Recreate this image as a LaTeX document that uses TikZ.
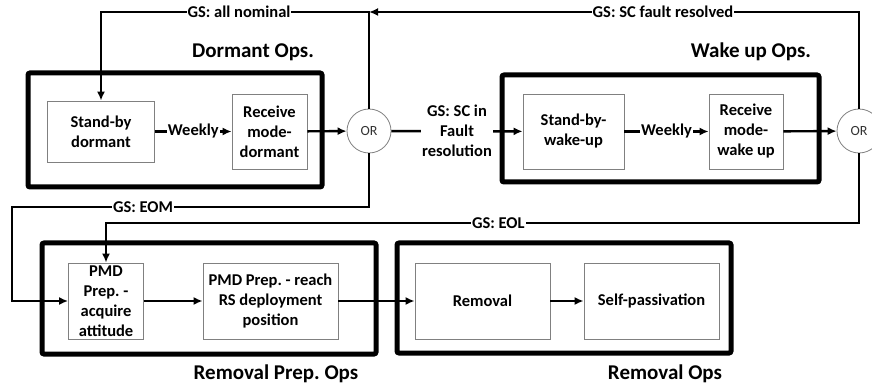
\documentclass[tikz,border=0pt]{standalone}
\usepackage{fontspec}
\setmainfont{Carlito}
\usetikzlibrary{positioning, arrows.meta}

\begin{document}
\frenchspacing
\begin{tikzpicture}[x=1pt,y=-1pt,>={Latex[length=9pt,width=8pt]},
    opsbox/.style={draw, line width=5pt, rounded corners=2pt},
    modebox/.style={draw=gray, line width=0.8pt, fill=white, align=center, inner sep=1pt,
        font=\fontsize{16.5}{20}\selectfont\bfseries},
    orgate/.style={circle, draw=gray, line width=0.8pt, fill=white, minimum size=44pt, inner sep=0pt,
        font=\fontsize{14}{16}\selectfont, text=black!80},
    flow/.style={->, line width=2.4pt},
    cond/.style={fill=white, inner sep=1pt, align=center, font=\fontsize{16.5}{20}\selectfont\bfseries},
    optitle/.style={font=\fontsize{21}{24}\selectfont\bfseries}]
    \useasboundingbox (0,0) rectangle (872,387);

    % phase frames
    \draw[opsbox] (28,73) rectangle (322,187);
    \draw[opsbox] (502,75) rectangle (819,182);
    \draw[opsbox] (42,243) rectangle (376,354);
    \draw[opsbox] (397,243) rectangle (731,353);

    \node[optitle] (dormtitle) at (253,52) {Dormant Ops.};
    \node[optitle] (waketitle) at (751,52) {Wake up Ops.};
    \node[optitle] (preptitle) at (276,374) {Removal Prep. Ops};
    \node[optitle] (remtitle) at (665,374) {Removal Ops};

    % modes
    \node[modebox, minimum width=107pt, minimum height=61pt] (sbd) at (101,131.5) {Stand-by\\dormant};
    \node[modebox, minimum width=75pt, minimum height=75pt] (rmd) at (269.5,131.5) {Receive\\mode-\\dormant};
    \node[orgate] (or1) at (369,131) {OR};
    \node[modebox, minimum width=101pt, minimum height=75pt] (sbw) at (573.5,131.5) {Stand-by-\\wake-up};
    \node[modebox, minimum width=74pt, minimum height=75pt] (rmw) at (746,131.5) {Receive\\mode-\\wake up};
    \node[orgate] (or2) at (859,131) {OR};

    \node[modebox, minimum width=75pt, minimum height=76pt] (pmda) at (106,301) {PMD\\Prep. -\\acquire\\attitude};
    \node[modebox, minimum width=135pt, minimum height=76pt] (pmdb) at (270.5,301) {PMD Prep. - reach\\RS deployment\\position};
    \node[modebox, minimum width=135pt, minimum height=76pt] (rem) at (482.5,301) {Removal};
    \node[modebox, minimum width=135pt, minimum height=76pt] (selfp) at (651.5,301) {Self-passivation};

    % corners of the feedback lines
    \coordinate (nomR) at (369,12);
    \coordinate (nomL) at (101,12);
    \coordinate (resR) at (859,12);
    \coordinate (eomR) at (369,207);
    \coordinate (eomL) at (12,207);
    \coordinate (eomB) at (12,301);
    \coordinate (eolR) at (859,223);
    \coordinate (eolL) at (106,223);

    \draw[flow] (sbd) -- node[cond] {Weekly} (rmd);
    \draw[flow] (rmd) -- (or1);
    \draw[flow] (or1) -- node[cond] {GS: SC in\\Fault\\resolution} (sbw);
    \draw[flow] (sbw) -- node[cond] {Weekly} (rmw);
    \draw[flow] (rmw) -- (or2);

    \draw[flow] (or1.north) -- (nomR) -- node[cond, pos=0.485] {GS: all nominal} (nomL) -- (sbd.north);
    \draw[flow] (or2.north) -- (resR) -- node[cond, pos=0.4] {GS: SC fault resolved} (nomR);
    \draw[flow] (or1.south) -- (eomR) -- node[cond, pos=0.633] {GS: EOM} (eomL) -- (eomB) -- (pmda.west);
    \draw[flow] (or2.south) -- (eolR) -- node[cond, pos=0.479] {GS: EOL} (eolL) -- (pmda.north);

    \draw[flow] (pmda) -- (pmdb);
    \draw[flow] (pmdb) -- (rem);
    \draw[flow] (rem) -- (selfp);
\end{tikzpicture}
\end{document}
